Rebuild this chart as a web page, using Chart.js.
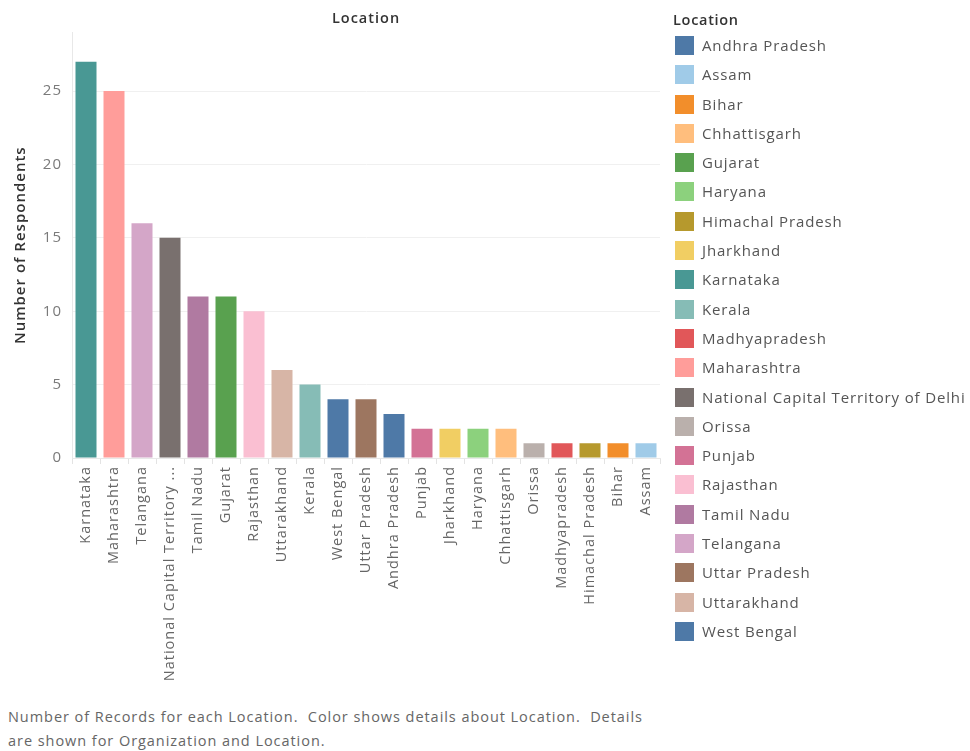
<!DOCTYPE html>
<html>
<head>
<meta charset="utf-8">
<script src="https://cdn.jsdelivr.net/npm/chart.js@4.4.1/dist/chart.umd.min.js"></script>
<style>
  html, body { margin: 0; padding: 0; background: #fff; }
  body { width: 970px; height: 751px; position: relative; overflow: hidden; font-family: "Open Sans", "Noto Sans", sans-serif; }
  #wrap { position: absolute; left: 0; top: 0; width: 732px; height: 700px; }
  #legend { position: absolute; left: 673px; top: 8px; }
  #legend .ttl { font-size: 14.5px; font-weight: 600; color: #333; height: 24px; line-height: 24px; letter-spacing: 0.7px; }
  #legend .row { position: relative; height: 29.3px; }
  #legend .sw { position: absolute; left: 2px; top: 4px; width: 19px; height: 19px; }
  #legend .lb { position: absolute; left: 29px; top: 2px; font-size: 15px; color: #555; line-height: 22px; white-space: nowrap; letter-spacing: 0.85px; }
  #foot { position: absolute; left: 8px; top: 705px; width: 700px; font-size: 14.5px; color: #666; line-height: 24px; white-space: nowrap; letter-spacing: 0.95px; }
</style>
</head>
<body>
<div id="wrap"><canvas id="c"></canvas></div>
<div id="legend"></div>
<div id="foot">Number of Records for each Location.&nbsp; Color shows details about Location.&nbsp; Details<br>are shown for Organization and Location.</div>
<script>
// Respondents per location, sorted by count
const locations = ["Karnataka", "Maharashtra", "Telangana", "National Capital Territory of Delhi", "Tamil Nadu", "Gujarat", "Rajasthan", "Uttarakhand", "Kerala", "West Bengal", "Uttar Pradesh", "Andhra Pradesh", "Punjab", "Jharkhand", "Haryana", "Chhattisgarh", "Orissa", "Madhyapradesh", "Himachal Pradesh", "Bihar", "Assam"];
const respondents = [27, 25, 16, 15, 11, 11, 10, 6, 5, 4, 4, 3, 2, 2, 2, 2, 1, 1, 1, 1, 1];

// Colour assigned to each location
const locationColors = {
  "Andhra Pradesh": "#4E79A7",
  "Assam": "#A0CBE8",
  "Bihar": "#F28E2B",
  "Chhattisgarh": "#FFBE7D",
  "Gujarat": "#59A14F",
  "Haryana": "#8CD17D",
  "Himachal Pradesh": "#B6992D",
  "Jharkhand": "#F1CE63",
  "Karnataka": "#499894",
  "Kerala": "#86BCB6",
  "Madhyapradesh": "#E15759",
  "Maharashtra": "#FF9D9A",
  "National Capital Territory of Delhi": "#79706E",
  "Orissa": "#BAB0AC",
  "Punjab": "#D37295",
  "Rajasthan": "#FABFD2",
  "Tamil Nadu": "#B07AA1",
  "Telangana": "#D4A6C8",
  "Uttar Pradesh": "#9D7660",
  "Uttarakhand": "#D7B5A6",
  "West Bengal": "#4E79A7"
};

const yTicks = [0, 5, 10, 15, 20, 25];
const yMax = 29;

const FONT = "'Open Sans', 'Noto Sans', sans-serif";

// Legend, alphabetical
const legend = document.getElementById('legend');
legend.innerHTML = '<div class="ttl">Location</div>';
Object.keys(locationColors).sort().forEach(name => {
  const row = document.createElement('div');
  row.className = 'row';
  row.innerHTML = '<div class="sw" style="background:' + locationColors[name] + '"></div><div class="lb">' + name + '</div>';
  legend.appendChild(row);
});

// Slightly open letter spacing for all canvas text
const spacedText = {
  id: 'spacedText',
  beforeDraw(chart) {
    if ('letterSpacing' in chart.ctx) chart.ctx.letterSpacing = '1px';
  }
};

new Chart(document.getElementById('c'), {
  type: 'bar',
  data: {
    labels: locations,
    datasets: [{
      label: 'Number of Respondents',
      data: respondents,
      backgroundColor: locations.map(l => locationColors[l]),
      barPercentage: 0.75,
      categoryPercentage: 1.0
    }]
  },
  plugins: [spacedText],
  options: {
    responsive: true,
    maintainAspectRatio: false,
    animation: false,
    layout: { padding: { left: 0, right: 72, top: 0, bottom: 0 } },
    plugins: {
      legend: { display: false },
      tooltip: { enabled: false },
      title: {
        display: true,
        fullSize: false,
        text: 'Location',
        color: '#333',
        font: { family: FONT, size: 14.5, weight: 600 },
        padding: { top: 10, bottom: 5 }
      }
    },
    scales: {
      x: {
        offset: true,
        grid: { display: true, drawOnChartArea: false, offset: true, color: '#e3e3e3', tickLength: 6 },
        border: { display: true, color: '#e8e8e8' },
        ticks: {
          color: '#666',
          font: { family: FONT, size: 14.5 },
          minRotation: 90,
          maxRotation: 90,
          autoSkip: false,
          padding: 2,
          callback: function (v) {
            const s = this.getLabelForValue(v);
            return s.length > 30 ? s.slice(0, 26) + ' ...' : s;
          }
        },
        afterFit: s => { s.height = 242; }
      },
      y: {
        min: 0,
        max: yMax,
        grid: { color: '#f0f0f0', drawTicks: false },
        border: { display: true, color: '#e8e8e8' },
        afterBuildTicks: s => { s.ticks = yTicks.map(v => ({ value: v })); },
        ticks: {
          color: '#7a7a7a',
          font: { family: FONT, size: 15 },
          padding: 10
        },
        title: {
          display: true,
          text: 'Number of Respondents',
          color: '#333',
          font: { family: FONT, size: 15, weight: 600 },
          padding: { top: 12, bottom: 4 }
        },
        afterFit: s => { s.width = 72; }
      }
    }
  }
});
</script>
</body>
</html>
